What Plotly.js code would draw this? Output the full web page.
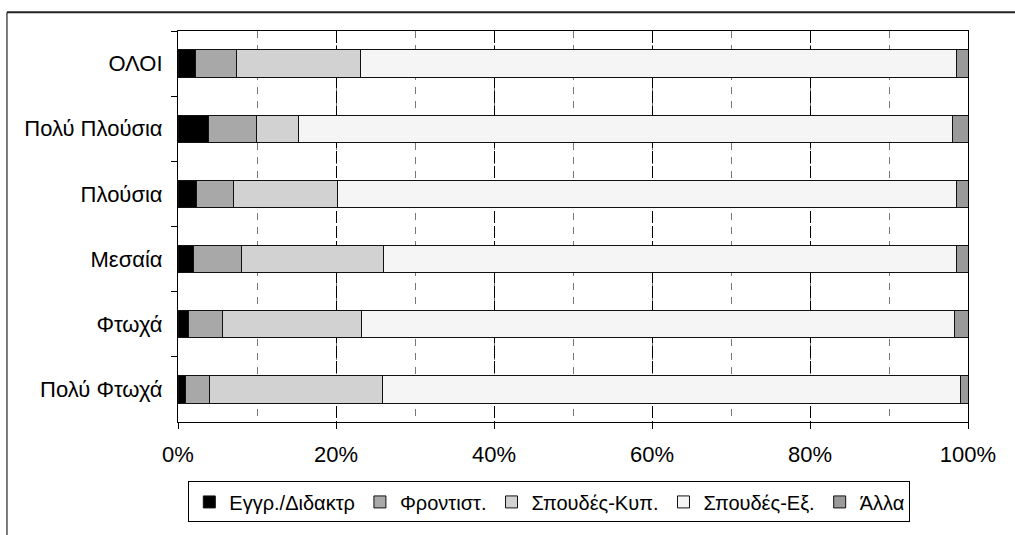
<!DOCTYPE html>
<html>
<head>
<meta charset="utf-8">
<script src="https://cdn.plot.ly/plotly-3.0.1.min.js"></script>
<style>html,body{margin:0;padding:0;background:#fff;overflow:hidden;}#chart{width:1015px;height:535px;}</style>
</head>
<body>
<div id="chart"></div>
<script>
const categories = ["ΟΛΟΙ", "Πολύ Πλούσια", "Πλούσια", "Μεσαία", "Φτωχά", "Πολύ Φτωχά"];
const seriesNames = ["Εγγρ./Διδακτρ", "Φροντιστ.", "Σπουδές-Κυπ.", "Σπουδές-Εξ.", "Άλλα"];
const fees      = [2.2, 3.9, 2.4, 2.0, 1.35, 0.9];
const tutoring  = [5.2, 6.0, 4.65, 6.1, 4.3, 3.1];
const studyCy   = [15.7, 5.3, 13.15, 17.9, 17.6, 21.9];
const studyAbr  = [75.4, 82.9, 78.3, 72.5, 75.0, 73.2];
const other     = [1.5, 1.9, 1.5, 1.5, 1.8, 0.9];
const xTickVals = [0, 20, 40, 60, 80, 100];
const xTickText = ["0%", "20%", "40%", "60%", "80%", "100%"];

const seriesValues = [fees, tutoring, studyCy, studyAbr, other];
const colors = ["#000000", "#a8a8a8", "#d2d2d2", "#f5f5f5", "#9a9a9a"];

const traces = seriesValues.map((vals, i) => ({
  type: "bar",
  orientation: "h",
  name: seriesNames[i],
  y: categories,
  x: vals,
  marker: {color: colors[i], line: {color: "#111", width: 1}},
  hoverinfo: "x+name"
}));

const layout = {
  width: 1015, height: 535,
  margin: {l: 178, r: 47, t: 31, b: 106},
  paper_bgcolor: "#fff", plot_bgcolor: "#fff",
  barmode: "stack",
  bargap: 0.58,
  font: {family: "Liberation Sans, Arial, sans-serif", size: 22, color: "#000"},
  xaxis: {
    range: [0, 100], tickvals: xTickVals, ticktext: xTickText,
    ticks: "outside", ticklen: 6, tickcolor: "#000", tickwidth: 1,
    showline: true, linecolor: "#000", linewidth: 1, mirror: true,
    showgrid: true, gridcolor: "#000", gridwidth: 1, griddash: "12px,3px",
    minor: {dtick: 10, tick0: 0, showgrid: true, gridcolor: "#777", griddash: "7px,7px", gridwidth: 1},
    zeroline: false, fixedrange: true, ticklabelstandoff: 7
  },
  yaxis: {
    type: "category", categoryorder: "array", categoryarray: categories,
    autorange: "reversed",
    ticks: "outside", tickson: "boundaries", ticklen: 6, tickcolor: "#000",
    showline: true, linecolor: "#000", linewidth: 1, mirror: true,
    showgrid: false, zeroline: false, ticklabelstandoff: 10, fixedrange: true
  },
  legend: {
    orientation: "h", x: 0.47, xanchor: "center", y: -0.152, yanchor: "top",
    bgcolor: "#fff", bordercolor: "#000", borderwidth: 1,
    font: {size: 20}, itemwidth: 30, traceorder: "normal"
  },
  shapes: [
    {type: "line", xref: "paper", yref: "paper", x0: -0.2165, x1: 1.2, y0: 1.0477, y1: 1.0477,
     line: {color: "#222", width: 2}},
    {type: "line", xref: "paper", yref: "paper", x0: -0.2165, x1: -0.2165, y0: -0.5, y1: 1.0477,
     line: {color: "#222", width: 1.2}}
  ],
  showlegend: true
};

Plotly.newPlot("chart", traces, layout, {displayModeBar: false, staticPlot: true});
</script>
</body>
</html>
